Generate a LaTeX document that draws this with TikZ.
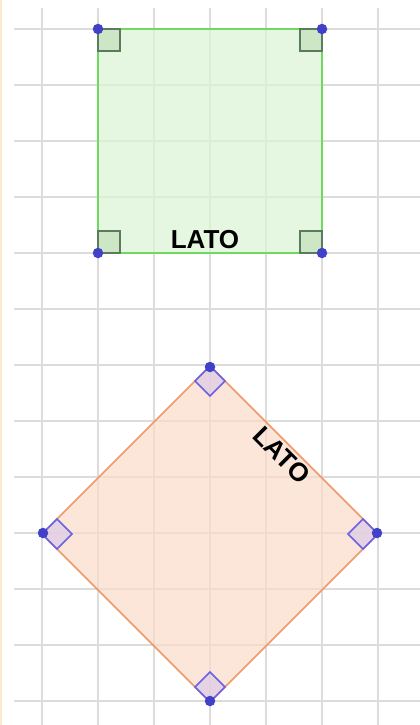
\documentclass[tikz,border=0pt]{standalone}
\usepackage{fontspec}
\setmainfont{Liberation Sans}
\definecolor{gridc}{HTML}{DCDCDC}
\definecolor{sqfill}{HTML}{DBF5D3}
\definecolor{sqline}{HTML}{6FD85F}
\definecolor{sqmfill}{HTML}{C4E0BC}
\definecolor{sqmline}{HTML}{5C7A5C}
\definecolor{dmfill}{HTML}{FBDBCA}
\definecolor{dmline}{HTML}{EE9A66}
\definecolor{dmmfill}{HTML}{DCCCEA}
\definecolor{dmmline}{HTML}{6A62E0}
\definecolor{dotc}{HTML}{4040C8}
\definecolor{edgec}{HTML}{FBEBCB}
\tikzset{
  gridline/.style={draw=gridc, line width=1.2pt},
  sqbody/.style={fill=sqfill, fill opacity=0.7, draw=sqline, line width=2pt},
  sqmark/.style={fill=sqmfill, fill opacity=0.7, draw=sqmline, line width=1.5pt},
  dmbody/.style={fill=dmfill, fill opacity=0.7, draw=dmline, line width=1.6pt},
  dmmark/.style={fill=dmmfill, fill opacity=0.7, draw=dmmline, line width=1.6pt},
  vdot/.style={circle, fill=dotc, inner sep=0pt, minimum size=10.5pt},
  lbl/.style={font=\bfseries\fontsize{26}{30}\selectfont, inner sep=0pt}
}
\begin{document}
\begin{tikzpicture}[x=1pt,y=-1pt]
\useasboundingbox (0,0) rectangle (420,725);
\fill[white] (0,0) rectangle (420,725);
\draw[edgec, line width=2pt] (1,0) -- (1,725);
% grid
\foreach \x in {42,98,...,378} \draw[gridline] (\x,8) -- (\x,725);
\foreach \y in {29,85,...,701} \draw[gridline] (14,\y) -- (420,\y);
% green square
\coordinate (A) at (98,29);
\coordinate (B) at (322,29);
\coordinate (C) at (322,253);
\coordinate (D) at (98,253);
\path[sqbody] (A) -- (B) -- (C) -- (D) -- cycle;
\path[sqmark] (A) rectangle ++(22,22);
\path[sqmark] (B) rectangle ++(-22,22);
\path[sqmark] (C) rectangle ++(-22,-22);
\path[sqmark] (D) rectangle ++(22,-22);
\node[lbl] (l1) at (205,240) {LATO};
% diamond
\coordinate (P) at (210,366);
\coordinate (Q) at (378,534);
\coordinate (R) at (210,702);
\coordinate (S) at (42,534);
\path[dmbody] (P) -- (Q) -- (R) -- (S) -- cycle;
\path[dmmark] (P) -- ++(-15,15) -- ++(15,15) -- ++(15,-15) -- cycle;
\path[dmmark] (Q) -- ++(-15,-15) -- ++(-15,15) -- ++(15,15) -- cycle;
\path[dmmark] (R) -- ++(-15,-15) -- ++(15,-15) -- ++(15,15) -- cycle;
\path[dmmark] (S) -- ++(15,-15) -- ++(15,15) -- ++(-15,15) -- cycle;
\node[lbl, rotate=-45] (l2) at (282,455) {LATO};
% vertex dots
\foreach \p in {A,B,C,D} \node[vdot] at (\p) {};
\node[vdot] at (210,367) {};
\node[vdot] at (377,533) {};
\node[vdot] at (210,701) {};
\node[vdot] at (43,533) {};
\end{tikzpicture}
\end{document}
